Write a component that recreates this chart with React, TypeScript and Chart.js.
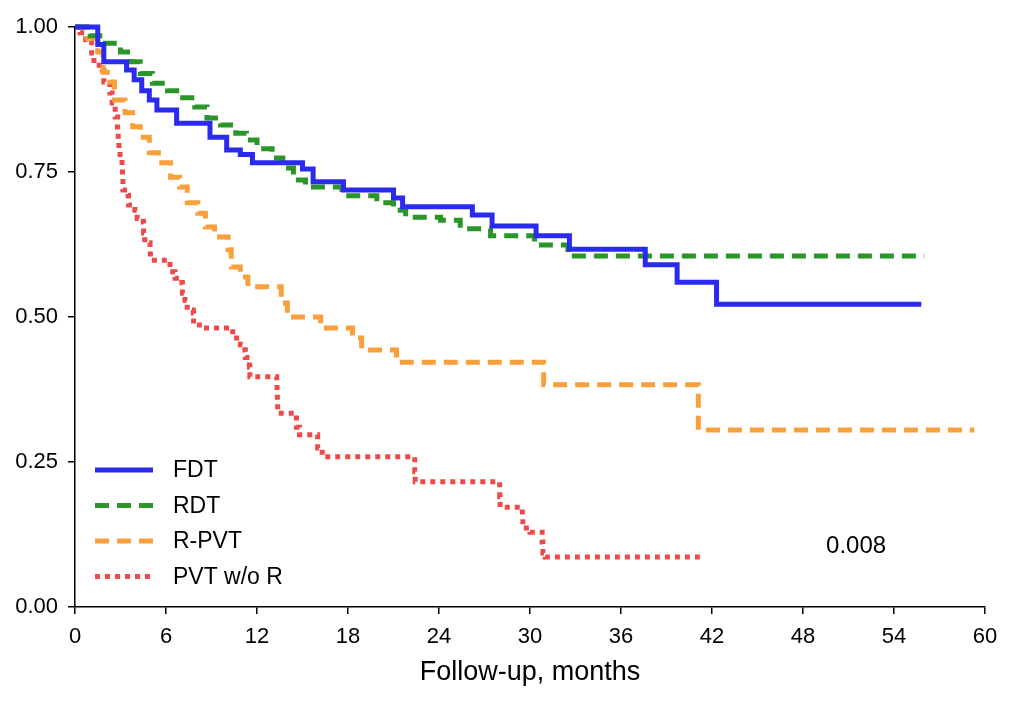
import React, { useEffect, useRef } from "react";
import { Chart, registerables } from "chart.js";

Chart.register(...registerables);

const seriesNames = ["FDT", "RDT", "R-PVT", "PVT w/o R"];
const seriesColors = ["#2b2bf0", "#2a962a", "#f8a03c", "#ee4a4a"];
const seriesDashes: number[][] = [[], [14, 8], [14, 8], [5, 5]];

const xTickValues = [0, 6, 12, 18, 24, 30, 36, 42, 48, 54, 60];
const yTickValues = [0, 0.25, 0.5, 0.75, 1.0];

const fdtTimes = [0, 1.5, 1.9, 3.4, 3.9, 4.4, 4.9, 5.4, 6.7, 8.9, 10.0, 10.9, 11.7, 15.0, 15.7, 17.7, 21.0, 21.6, 26.2, 27.5, 30.4, 32.6, 37.6, 39.7, 42.3, 55.8];
const fdtSurv = [1.0, 0.97, 0.94, 0.926, 0.909, 0.89, 0.874, 0.857, 0.834, 0.81, 0.788, 0.78, 0.766, 0.755, 0.733, 0.719, 0.705, 0.69, 0.676, 0.657, 0.64, 0.617, 0.59, 0.56, 0.522, 0.522];

const rdtTimes = [0, 1.0, 2.0, 3.0, 3.7, 4.3, 5.1, 6.1, 7.1, 7.9, 8.7, 9.6, 10.6, 11.3, 12.0, 13.0, 13.7, 14.4, 15.2, 17.6, 19.9, 21.0, 21.8, 24.1, 25.4, 27.4, 30.3, 32.5, 56.0];
const rdtSurv = [1.0, 0.985, 0.972, 0.957, 0.94, 0.92, 0.903, 0.89, 0.878, 0.862, 0.843, 0.831, 0.817, 0.805, 0.79, 0.774, 0.757, 0.736, 0.724, 0.709, 0.697, 0.684, 0.672, 0.667, 0.652, 0.64, 0.624, 0.605, 0.605];

const rpvtTimes = [0, 0.8, 1.5, 1.85, 2.3, 2.6, 3.3, 3.8, 4.3, 4.9, 5.5, 6.3, 6.9, 7.4, 8.1, 8.6, 9.2, 10.1, 10.3, 10.9, 11.4, 13.6, 14.0, 16.2, 18.3, 18.9, 21.2, 30.9, 41.1, 59.3];
const rpvtSurv = [1.0, 0.98, 0.957, 0.922, 0.905, 0.874, 0.852, 0.828, 0.81, 0.783, 0.766, 0.741, 0.724, 0.697, 0.679, 0.655, 0.638, 0.616, 0.586, 0.569, 0.552, 0.524, 0.5, 0.481, 0.464, 0.443, 0.422, 0.383, 0.305, 0.305];

const pvtTimes = [0, 0.33, 0.7, 1.1, 1.25, 1.8, 1.9, 2.3, 2.45, 2.65, 2.8, 2.85, 2.9, 2.97, 3.1, 3.13, 3.16, 3.5, 3.53, 3.95, 4.1, 4.5, 4.52, 4.6, 4.95, 4.97, 6.26, 6.6, 7.05, 7.08, 7.25, 7.4, 7.8, 7.82, 8.4, 10.4, 10.9, 11.2, 11.23, 11.5, 11.53, 13.3, 13.32, 13.34, 13.36, 14.6, 14.8, 16.0, 16.3, 22.4, 22.43, 28.0, 28.03, 29.5, 29.53, 30.0, 30.8, 30.85, 31.0, 41.2];
const pvtSurv = [1.0, 0.99, 0.978, 0.955, 0.934, 0.926, 0.905, 0.886, 0.869, 0.845, 0.822, 0.805, 0.788, 0.774, 0.757, 0.74, 0.719, 0.71, 0.693, 0.684, 0.67, 0.664, 0.645, 0.628, 0.619, 0.598, 0.578, 0.567, 0.559, 0.541, 0.529, 0.512, 0.507, 0.486, 0.481, 0.464, 0.452, 0.443, 0.43, 0.414, 0.397, 0.388, 0.369, 0.352, 0.334, 0.31, 0.297, 0.274, 0.259, 0.233, 0.216, 0.19, 0.172, 0.155, 0.136, 0.129, 0.112, 0.093, 0.086, 0.086];

const pValueText = "0.008";
const pValuePos = { x: 51.5, y: 0.105 };

const allTimes = [fdtTimes, rdtTimes, rpvtTimes, pvtTimes];
const allSurv = [fdtSurv, rdtSurv, rpvtSurv, pvtSurv];

const FONT = "'Liberation Sans', Arial, Helvetica, sans-serif";

const overlayPlugin = {
  id: "kmOverlay",
  afterDraw(chart: any) {
    const { ctx, chartArea, scales } = chart;
    ctx.save();
    const left = chartArea.left;
    const bottom = chartArea.bottom;
    seriesNames.forEach((name, i) => {
      const y = bottom - 137 + i * 35.5;
      ctx.beginPath();
      ctx.strokeStyle = seriesColors[i];
      ctx.lineWidth = 5;
      ctx.setLineDash(seriesDashes[i]);
      ctx.lineCap = "butt";
      ctx.moveTo(left + 20, y);
      ctx.lineTo(left + 78, y);
      ctx.stroke();
      ctx.setLineDash([]);
      ctx.fillStyle = "#000";
      ctx.font = `23px ${FONT}`;
      ctx.textAlign = "left";
      ctx.textBaseline = "middle";
      ctx.fillText(name, left + 98, y + 1);
    });
    ctx.font = `24px ${FONT}`;
    ctx.textAlign = "center";
    ctx.textBaseline = "middle";
    ctx.fillStyle = "#000";
    ctx.fillText(pValueText, scales.x.getPixelForValue(pValuePos.x), scales.y.getPixelForValue(pValuePos.y));
    ctx.restore();
  },
};

export default function App() {
  const canvasRef = useRef<HTMLCanvasElement | null>(null);

  useEffect(() => {
    const canvas = canvasRef.current;
    if (!canvas) return;
    const datasets = seriesNames.map((name, i) => ({
      label: name,
      data: allTimes[i].map((t, k) => ({ x: t, y: allSurv[i][k] })),
      borderColor: seriesColors[i],
      backgroundColor: seriesColors[i],
      borderWidth: 5,
      borderDash: seriesDashes[i],
      stepped: "before" as const,
      pointRadius: 0,
      fill: false,
      tension: 0,
      clip: 10,
    }));
    const chart = new Chart(canvas, {
      type: "line",
      data: { datasets },
      options: {
        animation: false,
        responsive: false,
        devicePixelRatio: 1,
        layout: { padding: { top: 27, right: 39, left: 0, bottom: 0 } },
        plugins: {
          legend: { display: false },
          tooltip: { enabled: false },
        },
        scales: {
          x: {
            type: "linear",
            min: 0,
            max: 60,
            afterBuildTicks: (scale: any) => {
              scale.ticks = xTickValues.map((v) => ({ value: v }));
            },
            afterFit: (scale: any) => {
              scale.height = 101;
            },
            ticks: {
              color: "#000",
              font: { family: FONT, size: 22 },
              padding: 10,
              maxRotation: 0,
              autoSkip: false,
              callback: (v: any) => String(v),
            },
            grid: {
              display: true,
              drawOnChartArea: false,
              drawTicks: true,
              tickLength: 7,
              color: "#000",
              lineWidth: 1.5,
            },
            border: { display: true, color: "#000", width: 1.5 },
            title: {
              display: true,
              text: "Follow-up, months",
              color: "#000",
              font: { family: FONT, size: 27 },
              padding: { top: 0, bottom: 19 },
            },
          },
          y: {
            type: "linear",
            min: 0,
            max: 1,
            afterBuildTicks: (scale: any) => {
              scale.ticks = yTickValues.map((v) => ({ value: v }));
            },
            afterFit: (scale: any) => {
              scale.width = 75;
            },
            ticks: {
              color: "#000",
              font: { family: FONT, size: 22 },
              padding: 10,
              autoSkip: false,
              callback: (v: any) => Number(v).toFixed(2),
            },
            grid: {
              display: true,
              drawOnChartArea: false,
              drawTicks: true,
              tickLength: 7,
              color: "#000",
              lineWidth: 1.5,
            },
            border: { display: true, color: "#000", width: 1.5 },
          },
        },
      },
      plugins: [overlayPlugin],
    } as any);
    return () => {
      chart.destroy();
    };
  }, []);

  return (
    <div style={{ position: "fixed", left: 0, top: 0, width: 1024, height: 708, background: "#fff" }}>
      <canvas ref={canvasRef} width={1024} height={708} style={{ width: 1024, height: 708, display: "block" }} />
    </div>
  );
}
